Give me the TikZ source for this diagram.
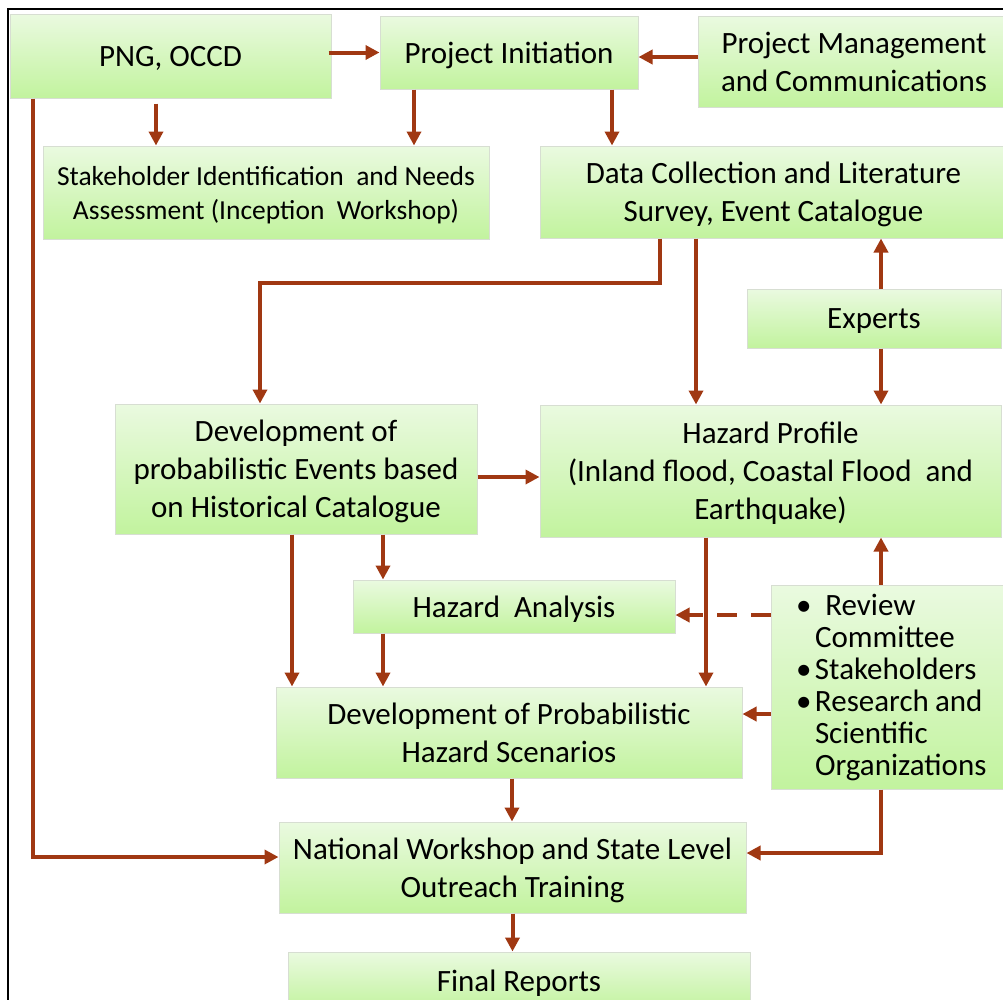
\documentclass[tikz,border=0pt]{standalone}
\usepackage{fontspec}
\setmainfont{Carlito}
\usetikzlibrary{arrows.meta,calc}
\definecolor{boxtop}{RGB}{234,250,224}
\definecolor{boxbot}{RGB}{194,243,158}
\definecolor{boxline}{RGB}{215,222,210}
\definecolor{arrowc}{RGB}{160,56,18}
\tikzset{
  boxfill/.style={draw=boxline, line width=1pt, top color=boxtop, bottom color=boxbot,
    align=center, inner sep=2pt, font=\fontsize{31}{38}\selectfont},
  box/.style={boxfill, text depth=0pt},
  smallbox/.style={box, font=\fontsize{27.5}{34}\selectfont},
  arr/.style={draw=arrowc, line width=4pt, -{Triangle[length=14pt,width=14pt]}},
  dsh/.style={arr, dash pattern=on 20pt off 14pt},
}
\newcommand{\bl}[1]{\mbox{\hspace*{12pt}\makebox[19pt][l]{•}#1}}
\newcommand{\nl}[1]{\mbox{\hspace*{31pt}#1}}
\begin{document}
\begin{tikzpicture}[x=1pt,y=-1pt]
\useasboundingbox (0,0) rectangle (1003,999);
\clip (0,0) rectangle (1003,999);
\fill[white] (0,0) rectangle (1003,999);
\draw[line width=2pt] (8,1010) -- (8,9) -- (1010,9);

\node[box, minimum width=321, minimum height=84] (png) at (170.5,56) {PNG, OCCD};
\node[box, minimum width=258, minimum height=73] (pi) at (509,52.5) {Project Initiation};
\node[box, minimum width=312, minimum height=91] (pm) at (854,61.5) {Project Management\\and Communications};
\node[smallbox, minimum width=446, minimum height=93] (sh) at (266,192.5) {Stakeholder Identification\ \ and Needs\\Assessment (Inception\ \ Workshop)};
\node[box, minimum width=467, minimum height=92] (dc) at (773.5,192) {Data Collection and Literature\\Survey, Event Catalogue};
\node[box, minimum width=254, minimum height=59] (ex) at (874,318.5) {Experts};
\node[box, minimum width=362, minimum height=130] (dpe) at (296,469) {Development of\\probabilistic Events based\\on Historical Catalogue};
\node[box, minimum width=461, minimum height=132] (hp) at (770.5,471) {Hazard Profile\\(Inland flood, Coastal Flood\ \ and\\Earthquake)};
\node[box, minimum width=322, minimum height=53] (ha) at (514,606.5) {Hazard\ \ Analysis};
\node[boxfill, minimum width=234, minimum height=204, text width=208, align=left, inner xsep=13, font=\fontsize{31}{32}\selectfont] (rv) at (888,687)
 {\bl{\ Review}\\\nl{Committee}\\\bl{Stakeholders}\\\bl{Research\hspace{0.2em}and}\\\nl{Scientific}\\\nl{Organizations}};
\node[box, minimum width=466, minimum height=91] (dps) at (509,732.5) {Development of Probabilistic\\Hazard Scenarios};
\node[box, minimum width=467, minimum height=91] (nw) at (512.5,867.5) {National Workshop and State Level\\Outreach Training};
\node[box, minimum width=462, minimum height=58] (fr) at (519,981) {Final Reports};

% top row
\coordinate (a1) at ([xshift=-3pt]png.east |- pi.west);
\draw[arr] (a1) -- (pi.west);
\coordinate (a2) at ([yshift=4.5pt]pm.west);
\draw[arr] (a2) -- (a2 -| pi.east);
\coordinate (a3) at ([xshift=-14.5pt,yshift=-5pt]png.south);
\draw[arr] (a3) -- (a3 |- sh.north);
\coordinate (a4) at ([xshift=-95pt]pi.south);
\draw[arr] (a4) -- (a4 |- sh.north);
\coordinate (a5) at ([xshift=103pt]pi.south);
\draw[arr] (a5) -- (a5 |- dc.north);
% left long line
\coordinate (a6) at ([xshift=-137.5pt]png.south);
\coordinate (a6e) at ([yshift=10.5pt]nw.west);
\draw[arr] (a6) |- (a6e);
% data collection
\coordinate (a7) at ([xshift=-113.5pt]dc.south);
\coordinate (a7e) at ([xshift=-36pt]dpe.north);
\draw[arr] (a7) -- ++(0,44) -| (a7e);
\coordinate (a8) at ([xshift=-77.5pt]dc.south);
\draw[arr] (a8) -- (a8 |- hp.north);
% experts
\coordinate (a9) at ([xshift=7pt]ex.north);
\draw[arr] (a9) -- (a9 |- dc.south);
\coordinate (a10) at ([xshift=7pt]ex.south);
\draw[arr] (a10) -- (a10 |- hp.north);
% dpe
\coordinate (a11) at ([yshift=-8pt]dpe.east);
\draw[arr] (a11) -- (a11 -| hp.west);
\coordinate (a12) at ([xshift=87pt]dpe.south);
\draw[arr] (a12) -- (a12 |- ha.north);
\coordinate (a13) at ([xshift=-4pt]dpe.south);
\draw[arr] (a13) -- (a13 |- dps.north);
\coordinate (a14) at ([xshift=-131pt]ha.south);
\draw[arr] (a14) -- (a14 |- dps.north);
\coordinate (a15) at ([xshift=-64.5pt]hp.south);
\draw[arr] (a15) -- (a15 |- dps.north);
% review
\coordinate (a16) at ([yshift=72pt]rv.west);
\draw[dsh] (a16) -- (a16 -| ha.east);
\coordinate (a17) at ([xshift=-7pt]rv.north);
\draw[arr] (a17) -- (a17 |- hp.south);
\coordinate (a18) at ([yshift=-27pt]rv.west);
\draw[arr] (a18) -- (a18 -| dps.east);
\coordinate (a19) at ([xshift=-7pt]rv.south);
\coordinate (a19e) at ([yshift=14.5pt]nw.east);
\draw[arr] (a19) |- (a19e);
% bottom
\coordinate (a20) at ([xshift=3pt]dps.south);
\draw[arr] (a20) -- (a20 |- nw.north);
\draw[arr] (nw.south) -- (nw.south |- fr.north);
\end{tikzpicture}
\end{document}
